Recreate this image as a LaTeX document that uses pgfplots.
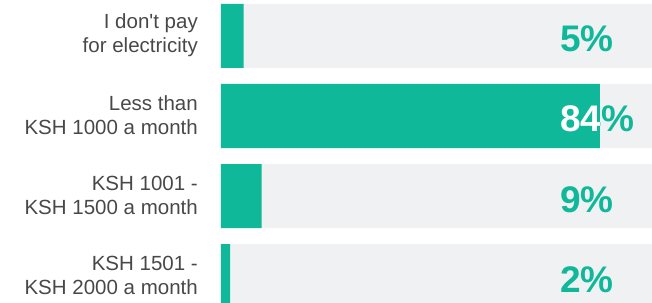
\documentclass[border=0pt]{standalone}
\usepackage{pgfplots}
\pgfplotsset{compat=1.18}
\usepackage{fontspec}
\setmainfont{Liberation Sans}[Ligatures=TeXOff]
\definecolor{teal1}{HTML}{10B89A}
\definecolor{bggrey}{HTML}{F0F1F3}
\definecolor{lbl}{HTML}{484848}
\begin{document}
\begin{tikzpicture}
\begin{axis}[
  scale only axis,
  width=431pt, height=302pt,
  xmin=0, xmax=95.56,
  ymin=-0.45, ymax=3.325,
  y dir=reverse,
  xbar, bar width=64pt, bar shift=0pt,
  axis line style={draw=none},
  xtick=\empty,
  ytick={0,1,2,3},
  yticklabels={{I don't pay\\for electricity},{Less than\\KSH 1000 a month},{KSH 1001 -\\KSH 1500 a month},{KSH 1501 -\\KSH 2000 a month}},
  major tick length=0pt,
  yticklabel style={align=right, font=\fontsize{20.5}{24}\selectfont, text=lbl, inner sep=0pt, xshift=-23pt, yshift=1pt},
]
\addplot[fill=bggrey, draw=none] coordinates {(100,0) (100,1) (100,2) (100,3)};
\addplot[fill=teal1, draw=none] coordinates {(5,0) (84,1) (9,2) (2,3)};
\tikzset{pct/.style={anchor=base west, inner sep=0pt, font=\fontsize{37}{40}\selectfont\bfseries}}
\node[pct, text=teal1] at (axis cs:75.2,0.2) {5\%};
\node[pct, text=teal1] at (axis cs:75.2,1.2) {84\%};
\begin{scope}
\clip (axis cs:0,0.6) rectangle (axis cs:84,1.4);
\node[pct, text=white] at (axis cs:75.2,1.2) {84\%};
\end{scope}
\node[pct, text=teal1] at (axis cs:75.2,2.2) {9\%};
\node[pct, text=teal1] at (axis cs:75.2,3.2) {2\%};
\end{axis}
\pgfresetboundingbox
\path[use as bounding box] (current axis.south west) ++(-221pt,0) rectangle (current axis.north east);
\end{tikzpicture}
\end{document}
